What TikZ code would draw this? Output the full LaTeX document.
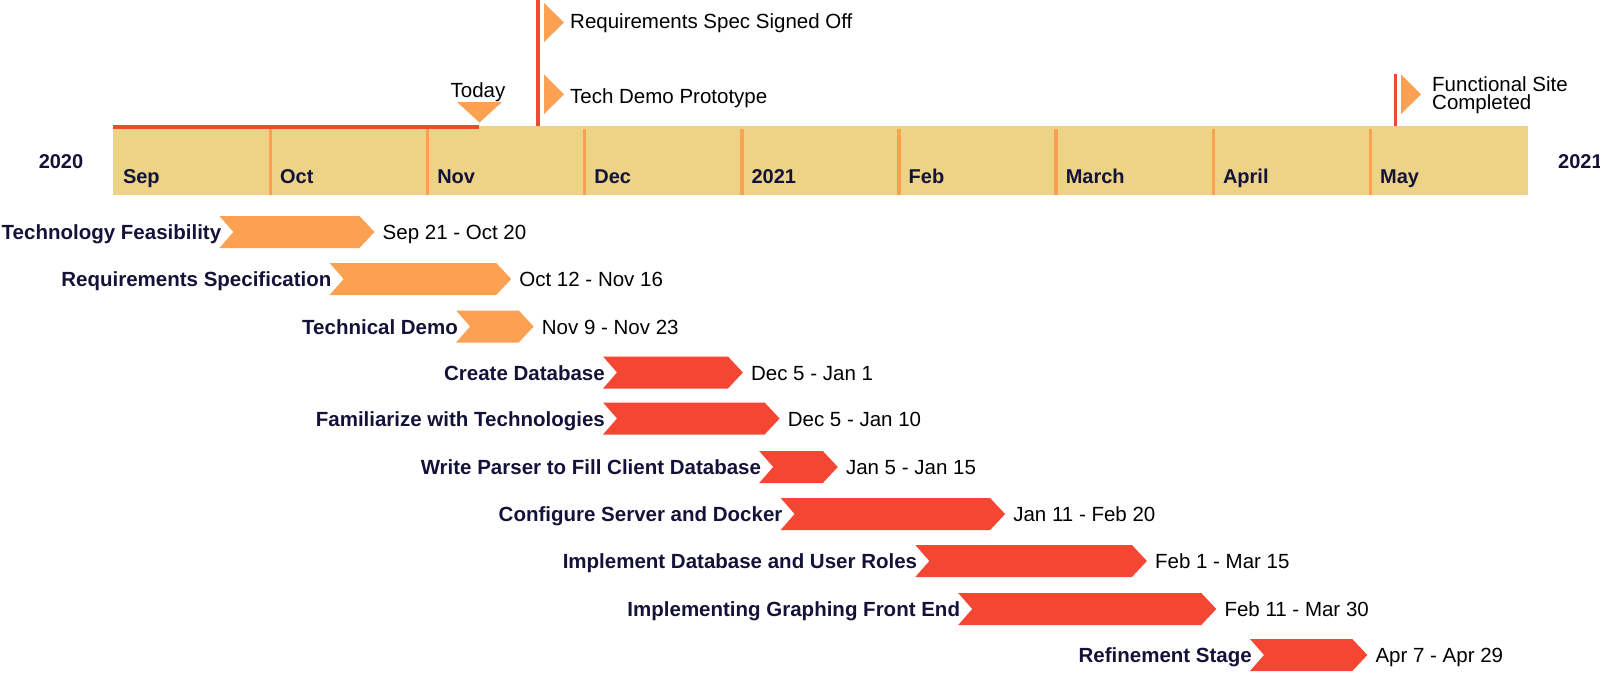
\documentclass[tikz,border=0pt]{standalone}
\usepackage{fontspec}
\setmainfont{Liberation Sans}
\definecolor{barorange}{HTML}{FCA152}
\definecolor{barred}{HTML}{F44733}
\definecolor{scalebg}{HTML}{EDD386}
\definecolor{navy}{HTML}{13133A}
\tikzset{
  txt/.style={font=\fontsize{20.5}{22}\selectfont, inner sep=0pt},
  boldtxt/.style={txt, font=\fontsize{20.5}{22}\selectfont\bfseries, text=navy},
  tasklbl/.style={boldtxt, anchor=mid east, yshift=-5pt},
  datelbl/.style={txt, text=black, anchor=mid west, yshift=-5pt},
  monthlbl/.style={boldtxt, font=\fontsize{20}{22}\selectfont\bfseries, anchor=mid west, yshift=-5pt},
  mslbl/.style={txt, anchor=mid west, yshift=-4.5pt},
  divider/.style={barorange, line width=3.5pt},
  redline/.style={barred, line width=3.5pt},
  flag/.style={fill=barorange},
}
% #1 name, #2 row centre y, #3 left x, #4 right x, #5 colour, #6 task, #7 dates
\newcommand\taskrow[7]{%
  \fill[#5] (#3,#2-16) -- (#4-15,#2-16) -- (#4,#2) -- (#4-15,#2+16)
            -- (#3,#2+16) -- (#3+14,#2) -- cycle;
  \coordinate (#1-s) at (#3,#2);
  \coordinate (#1-e) at (#4,#2);
  \node[tasklbl] (#1-l) at ([xshift=2pt]#1-s) {#6};
  \node[datelbl] (#1-d) at ([xshift=8pt]#1-e) {#7};
}
\begin{document}
\begin{tikzpicture}[x=1pt,y=-1pt]
\useasboundingbox (0,0) rectangle (1600,672);

% time scale
\fill[scalebg] (113,126) rectangle (1528,195);
\foreach \x in {270.4,427.6,584.7,741.8,899,1056.1,1213.3,1370.5}
  \draw[divider] (\x,129) -- (\x,195);
\foreach \x/\m [count=\i] in {113.3/Sep,270.4/Oct,427.6/Nov,584.7/Dec,741.8/2021,899/Feb,1056.1/March,1213.3/April,1370.5/May}
  \node[monthlbl] (m\i) at (\x+9.5,175.5) {\m};
\node[boldtxt, font=\fontsize{20}{22}\selectfont\bfseries] (y2020) at (61,162) {2020};
\node[boldtxt, font=\fontsize{20}{22}\selectfont\bfseries, anchor=west] (y2021) at (1558,162) {2021};

% elapsed time and today marker
\draw[redline, line width=4pt] (113,127) -- (479,127);
\fill[barorange] (457,102) -- (502,102) -- (479.5,122.5) -- cycle;
\node[txt] (today) at (478,92) {Today};

% milestones
\draw[redline] (538,0) -- (538,126);
\fill[flag] (544,3) -- (564,22.5) -- (544,42) -- cycle;
\fill[flag] (544,74.5) -- (564,94.5) -- (544,114) -- cycle;
\node[mslbl] (ms1) at (570,21.5) {Requirements Spec Signed Off};
\node[mslbl] (ms2) at (570,96) {Tech Demo Prototype};

\draw[redline, line width=3pt] (1395,73.5) -- (1395,126);
\fill[flag] (1401,74.5) -- (1421,94.5) -- (1401,114) -- cycle;
\node[txt, font=\fontsize{20.5}{18.5}\selectfont, align=left, anchor=west] (ms3) at (1432,95) {Functional Site\\Completed};

% tasks
\taskrow{t1}{232}{219.4}{374.5}{barorange}{Technology Feasibility}{Sep 21 - Oct 20}
\taskrow{t2}{279}{329.6}{511.2}{barorange}{Requirements Specification}{Oct 12 - Nov 16}
\taskrow{t3}{326.5}{456.1}{533.7}{barorange}{Technical Demo}{Nov 9 - Nov 23}
\taskrow{t4}{372.5}{603}{742.9}{barred}{Create Database}{Dec 5 - Jan 1}
\taskrow{t5}{418.5}{603}{779.6}{barred}{Familiarize with Technologies}{Dec 5 - Jan 10}
\taskrow{t6}{467}{759.2}{837.8}{barred}{Write Parser to Fill Client Database}{Jan 5 - Jan 15}
\taskrow{t7}{514}{780.6}{1005.1}{barred}{Configure Server and Docker}{Jan 11 - Feb 20}
\taskrow{t8}{561}{915.3}{1146.9}{barred}{Implement Database and User Roles}{Feb 1 - Mar 15}
\taskrow{t9}{609}{958.2}{1216.3}{barred}{Implementing Graphing Front End}{Feb 11 - Mar 30}
\taskrow{t10}{655}{1250}{1367.3}{barred}{Refinement Stage}{Apr 7 - Apr 29}
\end{tikzpicture}
\end{document}
